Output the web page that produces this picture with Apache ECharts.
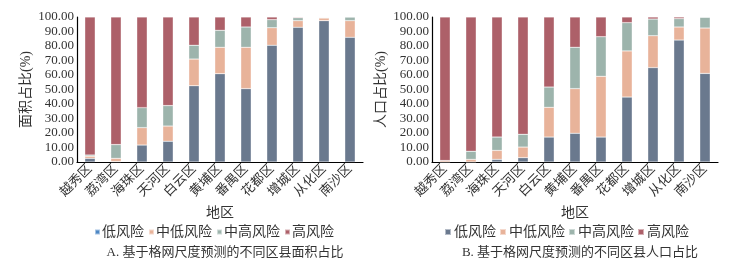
<!DOCTYPE html>
<html>
<head>
<meta charset="utf-8">
<script src="https://cdn.jsdelivr.net/npm/echarts@6/dist/echarts.min.js"></script>
<style>
  html, body { margin: 0; padding: 0; background: #fff; }
  #main { width: 747px; height: 262px; }
</style>
</head>
<body>
<div id="main"></div>
<script>
var districts = ['越秀区','荔湾区','海珠区','天河区','白云区','黄埔区','番禺区','花都区','增城区','从化区','南沙区'];
var riskNames = ['低风险','中低风险','中高风险','高风险'];
var yTicks = [0, 10, 20, 30, 40, 50, 60, 70, 80, 90, 100];

// A. 面积占比 (%)
var areaLow     = [2.5, 0.3, 11.7, 14.3, 52.6, 60.9, 50.6, 80.5, 92.9, 97.5, 86.0];
var areaMidLow  = [1.5, 2.2, 12.0, 10.5, 18.4, 18.2, 28.5, 12.1, 4.6, 1.8, 11.5];
var areaMidHigh = [0.8, 9.5, 13.8, 14.1, 9.5, 11.7, 14.0, 5.6, 2.0, 0.4, 2.5];
var areaHigh    = [95.2, 88.0, 62.5, 61.1, 19.5, 9.2, 6.9, 1.8, 0.5, 0.3, 0];

// B. 人口占比 (%)
var popLow     = [0, 0, 1.8, 3.0, 17.2, 19.8, 17.2, 44.8, 65.1, 84.1, 61.1];
var popMidLow  = [1.0, 1.8, 6.2, 7.3, 20.5, 30.8, 41.9, 31.8, 22.0, 9.0, 31.3];
var popMidHigh = [0, 5.6, 9.2, 8.8, 14.0, 28.5, 27.3, 19.5, 11.5, 5.8, 7.4];
var popHigh    = [99.0, 92.6, 82.8, 80.9, 48.3, 20.9, 13.6, 3.9, 1.4, 1.1, 0.2];

var colors = ['#6a798e', '#e8b39a', '#9db4ac', '#ad6069'];
var fontFam = "'Liberation Serif', 'Noto Sans CJK SC', serif";

var chart = echarts.init(document.getElementById('main'));

function xAxisOf(gi) {
    return {
        type: 'category',
        gridIndex: gi,
        data: districts,
        name: '地区',
        nameLocation: 'middle',
        nameGap: 42,
        nameTextStyle: { fontSize: 14, color: '#333', fontFamily: fontFam },
        axisLine: { lineStyle: { color: '#000', width: 1.2 } },
        axisTick: { show: false },
        axisLabel: {
            rotate: 45,
            interval: 0,
            margin: 5,
            fontSize: 13,
            color: '#333',
            fontFamily: fontFam
        }
    };
}

function yAxisOf(gi, name) {
    return {
        type: 'value',
        gridIndex: gi,
        min: yTicks[0],
        max: yTicks[yTicks.length - 1],
        interval: yTicks[1] - yTicks[0],
        name: name,
        nameLocation: 'middle',
        nameGap: 44,
        nameTextStyle: { fontSize: 14, color: '#333', fontFamily: fontFam },
        axisLine: { show: true, lineStyle: { color: '#000', width: 1.2 } },
        axisTick: { show: false },
        splitLine: { show: false },
        axisLabel: {
            fontSize: 13,
            color: '#333',
            margin: 3,
            fontFamily: fontFam,
            formatter: function (v) { return v.toFixed(2); }
        }
    };
}

function barSeries(name, data, gi, idx) {
    return {
        name: name,
        type: 'bar',
        stack: 'g' + gi,
        xAxisIndex: gi,
        yAxisIndex: gi,
        barWidth: '40%',
        itemStyle: { color: colors[idx], borderColor: 'rgba(255,255,255,0.5)', borderWidth: 0.5 },
        data: data
    };
}

var option = {
    animation: false,
    color: colors,
    title: [
        {
            text: 'A. 基于格网尺度预测的不同区县面积占比',
            left: 220, top: 241, textAlign: 'center',
            textStyle: { fontSize: 13, fontWeight: 'normal', color: '#333', fontFamily: fontFam }
        },
        {
            text: 'B. 基于格网尺度预测的不同区县人口占比',
            left: 575, top: 241, textAlign: 'center',
            textStyle: { fontSize: 13, fontWeight: 'normal', color: '#333', fontFamily: fontFam }
        }
    ],
    legend: [
        {
            left: 89, top: 220,
            itemWidth: 5, itemHeight: 5, itemGap: 4,
            icon: 'rect',
            textStyle: { fontSize: 14, color: '#333', fontFamily: fontFam, padding: [0, 0, 0, -3] },
            data: [
                { name: '低风险', itemStyle: { color: '#4d87c4' } },
                '中低风险', '中高风险', '高风险'
            ]
        },
        {
            left: 439, top: 220,
            itemWidth: 6, itemHeight: 6, itemGap: 3,
            icon: 'rect',
            textStyle: { fontSize: 14, color: '#333', fontFamily: fontFam, padding: [0, 0, 0, -2] },
            data: riskNames
        }
    ],
    grid: [
        { left: 77, top: 17, width: 286, height: 145 },
        { left: 432, top: 17, width: 286, height: 145 }
    ],
    xAxis: [xAxisOf(0), xAxisOf(1)],
    yAxis: [yAxisOf(0, '面积占比(%)'), yAxisOf(1, '人口占比(%)')],
    series: [
        barSeries(riskNames[0], areaLow, 0, 0),
        barSeries(riskNames[1], areaMidLow, 0, 1),
        barSeries(riskNames[2], areaMidHigh, 0, 2),
        barSeries(riskNames[3], areaHigh, 0, 3),
        barSeries(riskNames[0], popLow, 1, 0),
        barSeries(riskNames[1], popMidLow, 1, 1),
        barSeries(riskNames[2], popMidHigh, 1, 2),
        barSeries(riskNames[3], popHigh, 1, 3)
    ]
};

chart.setOption(option);
</script>
</body>
</html>
